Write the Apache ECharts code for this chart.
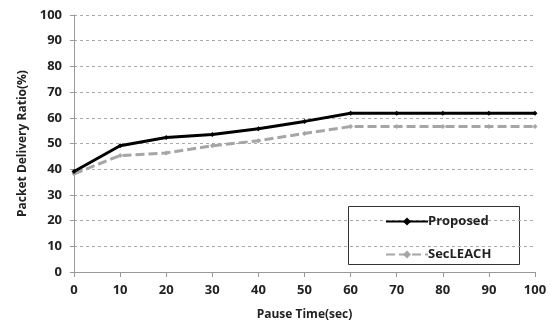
<!DOCTYPE html>
<html><head><meta charset="utf-8">
<script src="https://cdn.jsdelivr.net/npm/echarts@6/dist/echarts.min.js"></script>
<style>html,body{margin:0;padding:0;background:#fff}#c{width:557px;height:326px}</style>
</head><body><div id="c"></div>
<script>
var pauseTimes = [0, 10, 20, 30, 40, 50, 60, 70, 80, 90, 100];
var proposed = [39.1, 49.1, 52.3, 53.5, 55.7, 58.6, 61.8, 61.8, 61.8, 61.8, 61.8];
var secLeach = [38.2, 45.3, 46.3, 49.1, 51.1, 53.9, 56.6, 56.6, 56.6, 56.6, 56.6];
var yTicks = {min: 0, max: 100, interval: 10};
var xTicks = {min: 0, max: 100, interval: 10};

var FONT = '"Open Sans", "DejaVu Sans", sans-serif';
var chart = echarts.init(document.getElementById('c'), null, {renderer: 'canvas'});
function pairs(arr){ return pauseTimes.map(function(x,i){ return [x, arr[i]]; }); }
chart.setOption({
  animation: false,
  backgroundColor: '#fff',
  grid: {left: 74, right: 22, top: 15, bottom: 52},
  xAxis: {
    type: 'value', min: xTicks.min, max: xTicks.max, interval: xTicks.interval,
    name: 'Pause Time(sec)', nameLocation: 'middle', nameGap: 37,
    nameTextStyle: {fontFamily: FONT, fontWeight: 'bold', fontSize: 12, color: '#222'},
    axisLine: {show: true, lineStyle: {color: '#999', width: 1}},
    axisTick: {show: true, length: 5, lineStyle: {color: '#999'}},
    axisLabel: {fontFamily: FONT, fontWeight: 'bold', fontSize: 13, color: '#222', margin: 12},
    splitLine: {show: false}
  },
  yAxis: {
    type: 'value', min: yTicks.min, max: yTicks.max, interval: yTicks.interval,
    name: 'Packet Delivery Ratio(%)', nameLocation: 'middle', nameGap: 45, nameRotate: 90,
    nameTextStyle: {fontFamily: FONT, fontWeight: 'bold', fontSize: 12, color: '#222'},
    axisLine: {show: true, lineStyle: {color: '#999', width: 1}},
    axisTick: {show: true, length: 4, lineStyle: {color: '#999'}},
    axisLabel: {fontFamily: FONT, fontWeight: 'bold', fontSize: 13, color: '#222', margin: 12},
    splitLine: {show: true, lineStyle: {color: '#aaa', type: [3, 3], width: 1}}
  },
  legend: {
    orient: 'vertical', left: 380, top: 210, itemGap: 20,
    itemWidth: 42, itemHeight: 10,
    textStyle: {fontFamily: FONT, fontWeight: 'bold', fontSize: 13, color: '#222', padding: [0,0,0,-5]},
    data: ['Proposed', 'SecLEACH']
  },
  graphic: [{
    type: 'rect', left: 348, top: 206, z: 0,
    shape: {width: 171, height: 58},
    style: {fill: '#fff', stroke: '#333', lineWidth: 1}
  }],
  series: [
    {
      name: 'Proposed', type: 'line', data: pairs(proposed), z: 3,
      symbol: 'diamond', symbolSize: 5,
      lineStyle: {color: '#000', width: 3},
      itemStyle: {color: '#000'}
    },
    {
      name: 'SecLEACH', type: 'line', data: pairs(secLeach), z: 2,
      symbol: 'diamond', symbolSize: 5,
      lineStyle: {color: '#a6a6a6', width: 3, type: [9, 4]},
      itemStyle: {color: '#a6a6a6'}
    }
  ]
});
</script></body></html>
